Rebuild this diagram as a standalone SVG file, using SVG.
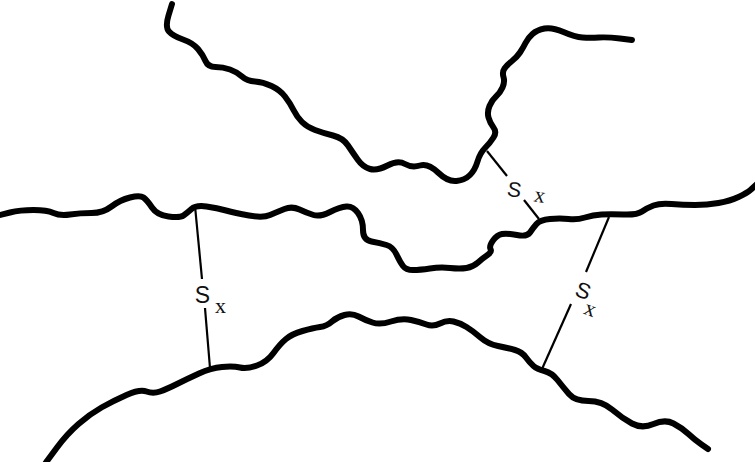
<svg xmlns="http://www.w3.org/2000/svg" width="755" height="462" viewBox="0 0 755 462">
  <style>
    .chain { fill: none; stroke: #000; stroke-width: 6; stroke-linecap: round; stroke-linejoin: round; }
    .link { fill: none; stroke: #000; stroke-width: 2.2; stroke-linecap: butt; }
    .s { font-family: "Liberation Sans", Arial, sans-serif; font-size: 23px; fill: #111; text-anchor: middle; }
    .x { font-family: "Liberation Serif", "Times New Roman", serif; font-size: 22px; fill: #111; text-anchor: middle; }
  </style>
  <rect width="755" height="462" fill="#fff"/>

  <!-- polymer chain, upper -->
  <g id="chain-top">
    <path class="chain" d="M172,4 L168.5,15.5 Q165,27 169,31.5 Q173,36 183,39.5 Q193,43 198,49 Q203,55 205.5,61 Q208,67 215.5,67 Q223,67 230,69.5 Q237,72 242,76.5 Q247,81 255,81.5 Q263,82 271.5,86 Q280,90 285,96.5 Q290,103 293.5,110 Q297,117 302,122 Q307,127 315,130 Q323,133 333,135.5 Q343,138 348,145.5 Q353,153 358,160 Q363,167 370,169 Q377,171 387.5,165.5 Q398,160 405,164 Q412,168 420,165.5 Q428,163 438,172.5 Q448,182 456.5,181 Q465,180 470,175 Q475,170 477.5,161.5 Q480,153 485,148 Q490,143 493.5,137.5 Q497,132 493.5,127.5 Q490,123 488.5,117.5 Q487,112 489.5,106 Q492,100 496,96.5 Q500,93 502.5,87.5 Q505,82 503.5,77 Q502,72 504.5,68.5 Q507,65 512,61 Q517,57 520,52.5 Q523,48 525.5,43 Q528,38 532.5,34 Q537,30 544.5,28.5 Q552,27 563.5,32 Q575,37 582.5,37.5 Q590,38 599,37.5 Q608,37 620,38.5 L632,40"/>
  </g>

  <!-- polymer chain, middle -->
  <g id="chain-middle">
    <path class="chain" d="M-2,215.5 L10,212.5 Q20,210 33.5,210 Q47,210 53.5,213 Q60,216 70,214.5 Q80,213 91.5,213 Q103,213 111.5,206.5 Q120,200 130,197.5 Q140,195 143.5,197.5 Q147,200 152,207.5 Q157,215 168.5,216.5 Q180,218 183.5,215.5 Q187,213 191.5,209 Q196,205 206.5,206.5 Q217,208 226,210.5 Q235,213 249,215.5 Q263,218 270,215 Q277,212 284.5,209 Q292,206 299.5,209.5 Q307,213 313.5,215 Q320,217 330,212 Q340,207 346.5,206.5 Q353,206 358,213 Q363,220 363,230 Q363,240 371.5,241.5 Q380,243 386.5,245 Q393,247 396.5,254.5 Q400,262 403,266 Q406,270 413,270 Q420,270 430,268.5 Q440,267 450,268 Q460,269 466.5,268 Q473,267 478,262.5 Q483,258 487.5,255 Q492,252 490.5,249 Q489,246 493,240.5 Q497,235 502,234 Q507,233 517,235 Q527,237 530,232.5 Q533,228 536.5,224 Q540,220 550,219 Q560,218 568.5,219 Q577,220 585,217.5 Q593,215 601.5,214.5 Q610,214 623.5,214.5 Q637,215 642,211.5 Q647,208 653.5,205.5 Q660,203 671.5,204 Q683,205 695,205 Q707,205 718.5,203 Q730,201 738.5,197 Q747,193 751,189.5 L757,184"/>
  </g>

  <!-- polymer chain, lower -->
  <g id="chain-bottom">
    <path class="chain" d="M43,467 L47,461 L57,447.5 Q67,434 78.5,424 Q90,414 101.5,407.5 Q113,401 126.5,395 Q140,389 146.5,391.5 Q153,394 160,391.5 Q167,389 177,384 Q187,379 199,373.5 Q211,368 222,367 Q233,366 240,367.5 Q247,369 257,365.5 Q267,362 273.5,353 Q280,344 286,339 Q292,334 302.5,331 Q313,328 320,327 Q327,326 332,321.5 Q337,317 344.5,315 Q352,313 358.5,316.5 Q365,320 372.5,322.5 Q380,325 391,321.5 Q402,318 411,320 Q420,322 426.5,324.5 Q433,327 440,323.5 Q447,320 453.5,321.5 Q460,323 466.5,327 Q473,331 480.5,337.5 Q488,344 498,346 Q508,348 515,350 Q522,352 526,357.5 Q530,363 533.5,366 Q537,369 544.5,371 Q552,373 557.5,380 Q563,387 569,394 Q575,401 588.5,401 Q602,401 612,409.5 Q622,418 632,423.5 Q642,429 653.5,424 Q665,419 673.5,423.5 Q682,428 688.5,434 Q695,440 701.5,444.5 L708,449"/>
  </g>

  <!-- sulfur crosslinks between chains -->
  <g id="crosslinks">
    <g id="link-left">
      <line class="link" x1="195" y1="206" x2="202" y2="279"/>
      <line class="link" x1="205" y1="308" x2="210" y2="368"/>
      <text class="s" x="202.5" y="303">S</text>
      <text class="x" x="220.5" y="313">x</text>
    </g>
    <g id="link-top">
      <line class="link" x1="487" y1="151" x2="507" y2="176"/>
      <line class="link" x1="524" y1="200" x2="539" y2="219"/>
      <g transform="rotate(10 527 193)">
        <text class="s" x="514" y="199" style="font-size:21px">S</text>
        <text class="x" x="540" y="200" style="font-size:22px">x</text>
      </g>
    </g>
    <g id="link-right">
      <line class="link" x1="609" y1="217" x2="586" y2="272"/>
      <line class="link" x1="571" y1="304" x2="542" y2="369"/>
      <g transform="rotate(20 584 300)">
        <text class="s" x="580" y="299" style="font-size:22px">S</text>
        <text class="x" x="593" y="313" style="font-size:22px">x</text>
      </g>
    </g>
  </g>
</svg>
